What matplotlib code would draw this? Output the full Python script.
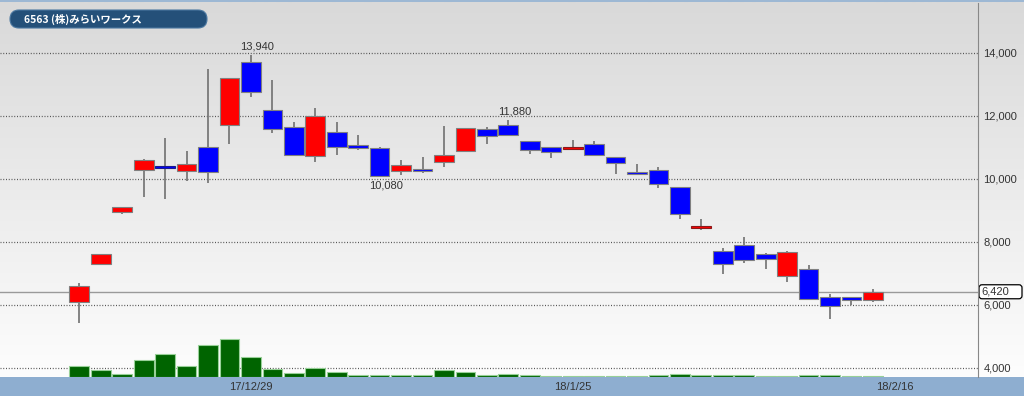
import matplotlib
matplotlib.use('Agg')
import matplotlib.pyplot as plt
import numpy as np
from matplotlib.patches import FancyBboxPatch, Rectangle
from matplotlib.colors import LinearSegmentedColormap

plt.rcParams['font.family'] = ['Liberation Sans', 'DejaVu Sans']

title = '6563 (株)みらいワークス'

# trading sessions (last one has no candle yet)
sessions = ['17/12/19', '17/12/20', '17/12/21', '17/12/22', '17/12/25', '17/12/26',
            '17/12/27', '17/12/28', '17/12/29',
            '18/1/4', '18/1/5', '18/1/9', '18/1/10', '18/1/11', '18/1/12', '18/1/15',
            '18/1/16', '18/1/17', '18/1/18', '18/1/19', '18/1/22', '18/1/23', '18/1/24',
            '18/1/25', '18/1/26', '18/1/29', '18/1/30', '18/1/31',
            '18/2/1', '18/2/2', '18/2/5', '18/2/6', '18/2/7', '18/2/8', '18/2/9',
            '18/2/13', '18/2/14', '18/2/15', '18/2/16']

opens = [6100, 7310, 8950, 10300, 10390, 10250, 11000, 11700, 13700, 12200,
         11660, 10720, 11490, 11090, 10990, 10260, 10330, 10530, 10890, 11590,
         11710, 11210, 11000, 10990, 11110, 10700, 10230, 10300, 9740, 8460,
         7710, 7890, 7630, 6920, 7150, 6250, 6260, 6160]
highs = [6710, 7620, 9110, 10620, 11290, 10890, 13480, 13210, 13940, 13140,
         11820, 12250, 11810, 11410, 11000, 10610, 10690, 11680, 11620, 11640,
         11880, 11210, 11000, 11240, 11210, 10700, 10480, 10390, 9740, 8720,
         7820, 8160, 7640, 7700, 7280, 6340, 6260, 6510]
lows = [5440, 7300, 8900, 9440, 9360, 9950, 9880, 11100, 12600, 11450,
        10740, 10540, 10760, 10930, 10080, 10140, 10180, 10370, 10880, 11100,
        11400, 10790, 10660, 10940, 10740, 10150, 10160, 9710, 8720, 8370,
        6980, 7320, 7140, 6730, 6170, 5560, 5990, 6090]
closes = [6610, 7610, 9110, 10610, 10380, 10490, 10210, 13200, 12750, 11590,
          10750, 11990, 11010, 10990, 10110, 10450, 10250, 10750, 11620, 11360,
          11410, 10910, 10850, 11000, 10760, 10520, 10170, 9840, 8880, 8470,
          7290, 7430, 7470, 7690, 6180, 5970, 6170, 6420]
# volume, thousand shares
volume = [440, 270, 130, 690, 910, 440, 1270, 1530, 800, 330,
          160, 360, 190, 90, 90, 90, 70, 270, 200, 90,
          140, 95, 60, 60, 60, 60, 60, 95, 120, 70,
          95, 80, 55, 55, 95, 80, 55, 55]

last_price = 6420
price_ticks = [4000, 6000, 8000, 10000, 12000, 14000]
date_labels = ['17/12/29', '18/1/25', '18/2/16']
mark_high = [8, 20]
mark_low = [14]

W, H = 1024, 396
fig = plt.figure(figsize=(W / 100, H / 100), dpi=100)

# background: gradient + bottom band + title pill
bg = fig.add_axes([0, 0, 1, 1], zorder=-5)
bg.set_xlim(0, W)
bg.set_ylim(0, H)
bg.axis('off')
cmap = LinearSegmentedColormap.from_list('bg', ['#fdfdfd', '#d9d9d9'])
bg.imshow(np.linspace(0, 1, 256).reshape(-1, 1), cmap=cmap, origin='lower',
          extent=(0, W, 19, H - 2), aspect='auto')
bg.add_patch(Rectangle((0, 0), W, 19, color='#8eaed0', lw=0))
bg.add_patch(Rectangle((0, H - 2), W, 2, color='#9db8d4', lw=0))
bg.add_patch(FancyBboxPatch((10, H - 28), 197, 18,
                            boxstyle='round,pad=0,rounding_size=9',
                            fc='#245079', ec='#4a77a0', lw=0.8))
bg.text(24, H - 19, title, color='white', fontsize=7.5, fontweight='bold',
        va='center', ha='left', family=['Noto Sans CJK JP', 'DejaVu Sans'])

# price axes
ax = fig.add_axes([0, 19 / H, 978 / W, 374 / H])
ax.set_facecolor('none')
ax.set_xlim(-3.7, 41.9)
ax.set_ylim(3714, 15587)

# volume bars (twin axis, created first so the price scale stays on the right)
vax = ax.twinx()
vax.set_ylim(0, max(volume) * 9.8)
x = np.arange(len(opens))
vax.bar(x, volume, width=0.92, color='#006400', edgecolor='#98d098', lw=0.8)
vax.set_yticks([])
for s in vax.spines.values():
    s.set_visible(False)

ax.vlines(x, lows, highs, color='#707070', lw=1.2, zorder=3)
for i in x:
    o, c = opens[i], closes[i]
    up = c >= o
    fc = '#ff0000' if up else '#0000ff'
    bottom = min(o, c)
    h = abs(c - o)
    ec = '#808080'
    if h < 30:
        ec = '#8b1a1a' if up else '#1a1a8c'
        bottom = (o + c) / 2 - 30
        h = 60
    ax.add_patch(Rectangle((i - 0.46, bottom), 0.92, h, fc=fc, ec=ec,
                           lw=0.8, zorder=4))

ax.axhline(last_price, color='#9a9a9a', lw=1, zorder=2)
ax.grid(axis='y', linestyle=(0, (0.8, 1.4)), color='#555555', lw=0.9)
ax.set_axisbelow(True)

for i in mark_high:
    ax.annotate(f'{highs[i]:,}', xy=(i, highs[i]), xytext=(6, 3),
                textcoords='offset pixels', ha='center', va='bottom',
                fontsize=8, color='#333333')
for i in mark_low:
    ax.annotate(f'{lows[i]:,}', xy=(i, lows[i]), xytext=(6, -4),
                textcoords='offset pixels', ha='center', va='top',
                fontsize=8, color='#333333')

ax.set_yticks(price_ticks)
ax.set_yticklabels([f'{v:,}' for v in price_ticks])
ax.yaxis.tick_right()
ax.yaxis.set_label_position('right')
ax.tick_params(axis='y', length=0, pad=4, labelsize=8, labelcolor='#333333',
               left=False, labelleft=False, right=True, labelright=True)
ax.set_xticks([sessions.index(d) for d in date_labels])
ax.set_xticklabels(date_labels)
ax.tick_params(axis='x', length=0, pad=3.5, labelsize=8, labelcolor='#333333')
for s in ['top', 'left', 'bottom']:
    ax.spines[s].set_visible(False)
ax.spines['right'].set_visible(True)
ax.spines['right'].set_color('#888888')

# last price box on the right scale
py = ax.transData.transform((0, last_price))[1]
bg.add_patch(FancyBboxPatch((979, py - 7), 43, 14,
                            boxstyle='round,pad=0,rounding_size=3',
                            fc='white', ec='black', lw=0.9))
bg.text(981, py, f'{last_price:,}', fontsize=8, color='#333333',
        va='center', ha='left')

fig.savefig('out.png', dpi=100)
